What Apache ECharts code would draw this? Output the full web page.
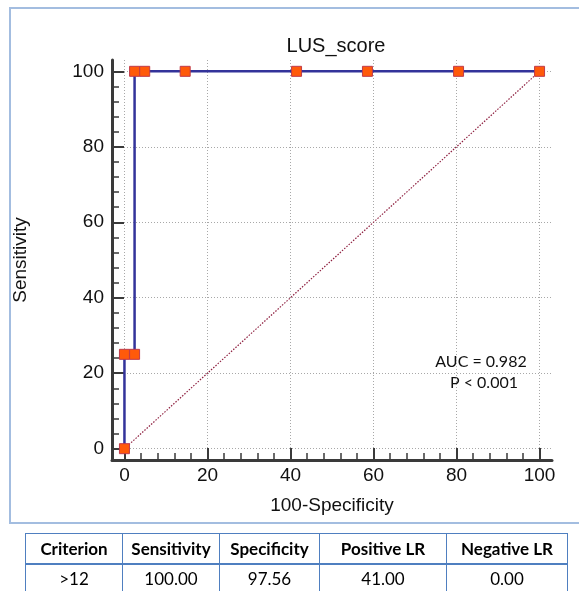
<!DOCTYPE html>
<html><head><meta charset="utf-8">
<script src="https://cdn.jsdelivr.net/npm/echarts@6/dist/echarts.min.js"></script>
<style>
html,body{margin:0;padding:0;background:#fff;}
#chart{position:absolute;left:0;top:0;width:579px;height:591px;}
#tbl{position:absolute;left:25px;top:533px;border-collapse:collapse;font-family:Lato,'Open Sans',sans-serif;font-size:17px;color:#000;table-layout:fixed;}
#tbl td,#tbl th{border:1.5px solid #4f7fc0;text-align:center;padding:0;}
#tbl th{font-weight:bold;height:29px;border-bottom:2px solid #4f7fc0;}
#tbl td{height:27px;}
</style></head><body>
<div id="chart"></div>
<table id="tbl"></table>
<script>
// ---- data ----
const chartTitle = 'LUS_score';
const xName = '100-Specificity';
const yName = 'Sensitivity';
const majorTicks = [0, 20, 40, 60, 80, 100];
const minorTicks = [4, 8, 12, 16, 24, 28, 32, 36, 44, 48, 52, 56, 64, 68, 72, 76, 84, 88, 92, 96];
const rocX = [0, 0, 2.44, 2.44, 4.88, 14.63, 41.46, 58.54, 80.49, 100];
const rocY = [0, 25, 25, 100, 100, 100, 100, 100, 100, 100];
const diagX = [0, 100];
const diagY = [0, 100];
const aucLines = ['AUC = 0.982', 'P < 0.001'];
const tableHeader = ['Criterion', 'Sensitivity', 'Specificity', 'Positive LR', 'Negative LR'];
const tableRow = ['>12', '100.00', '97.56', '41.00', '0.00'];
const colWidths = [97, 97, 100, 127, 121];

// ---- table ----
const tbl = document.getElementById('tbl');
let html = '<colgroup>' + colWidths.map(w => '<col style="width:' + w + 'px">').join('') + '</colgroup>';
html += '<tr>' + tableHeader.map(h => '<th>' + h.replace('>', '&gt;') + '</th>').join('') + '</tr>';
html += '<tr>' + tableRow.map(v => '<td>' + v.replace('>', '&gt;') + '</td>').join('') + '</tr>';
tbl.innerHTML = html;

// ---- chart ----
const font = "'Liberation Sans', Arial, sans-serif";
const axisColor = '#3a3a3a';
function mainAxis(isX) {
  return {
    type: 'value', min: -3, max: 103,
    position: isX ? 'bottom' : 'left',
    name: isX ? xName : yName,
    nameLocation: 'middle',
    nameGap: isX ? 36 : 82,
    nameRotate: isX ? 0 : 90,
    nameTextStyle: { fontFamily: font, fontSize: 19, color: '#111' },
    axisLine: { show: true, onZero: false, lineStyle: { color: axisColor, width: 3 } },
    axisTick: { show: true, inside: true, length: 12, customValues: majorTicks, lineStyle: { color: axisColor, width: 2 } },
    axisLabel: { show: true, customValues: majorTicks, margin: isX ? 6 : 8, fontFamily: font, fontSize: 19, color: '#111' },
    splitLine: { show: true, lineStyle: { type: [1, 2], color: '#a8a8a8', width: 1 } },
    minorTick: { show: false }
  };
}
function minorAxis(isX) {
  return {
    type: 'value', min: -3, max: 103,
    position: isX ? 'bottom' : 'left',
    axisLine: { show: false, onZero: false },
    axisTick: { show: true, inside: true, length: 7, customValues: minorTicks, lineStyle: { color: axisColor, width: 1.5 } },
    axisLabel: { show: false },
    splitLine: { show: false }
  };
}

const chart = echarts.init(document.getElementById('chart'), null, { renderer: 'canvas' });
chart.setOption({
  animation: false,
  backgroundColor: '#fff',
  title: {
    text: chartTitle, left: 331, top: 31, textAlign: 'center',
    textStyle: { fontFamily: font, fontSize: 20, fontWeight: 'normal', color: '#111' }
  },
  grid: { left: 112, right: 27, top: 60, bottom: 131 },
  xAxis: [mainAxis(true), minorAxis(true)],
  yAxis: [mainAxis(false), minorAxis(false)],
  graphic: [
    { type: 'rect', shape: { x: 10, y: 8, width: 620, height: 515 }, style: { fill: 'none', stroke: '#a3bde0', lineWidth: 2 }, silent: true },
    { type: 'text', x: 481, y: 362, style: { text: aucLines[0], fontFamily: 'Lato, sans-serif', fontSize: 16, fill: '#111', align: 'center', verticalAlign: 'middle' } },
    { type: 'text', x: 484, y: 383, style: { text: aucLines[1], fontFamily: 'Lato, sans-serif', fontSize: 16, fill: '#111', align: 'center', verticalAlign: 'middle' } }
  ],
  series: [
    {
      type: 'line', xAxisIndex: 0, yAxisIndex: 0,
      data: diagX.map((x, i) => [x, diagY[i]]),
      showSymbol: false, symbol: 'none',
      lineStyle: { color: '#8e1f3f', width: 1.2, type: [1.5, 1.5] },
      z: 1
    },
    {
      type: 'line', xAxisIndex: 0, yAxisIndex: 0,
      data: rocX.map((x, i) => [x, rocY[i]]),
      symbol: 'rect', symbolSize: 10,
      itemStyle: { color: '#ff5a0a', borderColor: '#c03a4a', borderWidth: 1 },
      lineStyle: { color: '#33339a', width: 2.5 },
      z: 3
    }
  ]
});
</script>
</body></html>
